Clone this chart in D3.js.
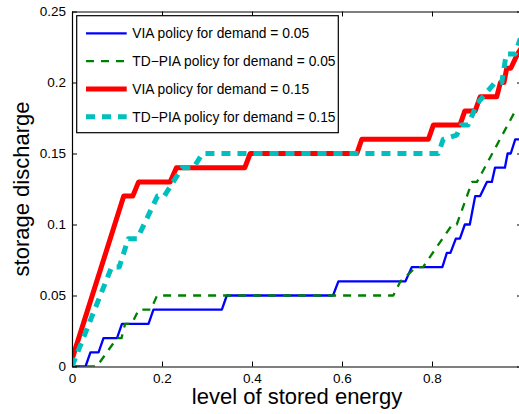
<!DOCTYPE html>
<html>
<head>
<meta charset="utf-8">
<script src="https://cdn.jsdelivr.net/npm/d3@7"></script>
<style>
  body { margin: 0; background: #fff; }
  svg { display: block; font-family: "Liberation Sans", Arial, Helvetica, sans-serif; }
</style>
</head>
<body>
<div id="grafico"></div>
<script>
// puntos: [nivel de energia, descarga]
const viaBaja = [[0,0],[0.03,0],[0.041,0.01],[0.059,0.01],[0.07,0.02],[0.1,0.02],[0.111,0.03],[0.17,0.03],[0.181,0.04],[0.333,0.04],[0.344,0.05],[0.58,0.05],[0.592,0.06],[0.741,0.06],[0.755,0.07],[0.823,0.07],[0.833,0.08],[0.841,0.08],[0.853,0.09],[0.862,0.09],[0.873,0.1],[0.884,0.1],[0.89,0.11],[0.896,0.12],[0.907,0.12],[0.922,0.13],[0.933,0.13],[0.94,0.14],[0.962,0.14],[0.968,0.15],[0.975,0.15],[0.985,0.16],[1,0.16]];
const tdpiaBaja = [[0,0],[0.055,0],[0.1,0.02],[0.11,0.02],[0.118,0.03],[0.133,0.03],[0.148,0.04],[0.175,0.04],[0.189,0.05],[0.714,0.05],[0.73,0.06],[0.765,0.07],[0.78,0.07],[0.845,0.1],[0.855,0.1],[0.889,0.13],[0.9,0.13],[0.985,0.18],[1,0.18]];
const viaAlta = [[0,0.005],[0.115,0.12],[0.135,0.12],[0.148,0.13],[0.218,0.13],[0.232,0.14],[0.384,0.14],[0.396,0.15],[0.633,0.15],[0.644,0.16],[0.792,0.16],[0.803,0.17],[0.862,0.17],[0.873,0.18],[0.896,0.18],[0.907,0.19],[0.944,0.19],[0.952,0.2],[0.96,0.2],[0.966,0.21],[0.975,0.21],[0.99,0.22],[1,0.225]];
const tdpiaAlta = [[0,0],[0.088,0.07],[0.105,0.07],[0.125,0.09],[0.145,0.09],[0.19,0.12],[0.205,0.12],[0.225,0.13],[0.245,0.14],[0.27,0.14],[0.29,0.15],[0.814,0.15],[0.825,0.16],[0.855,0.163],[0.865,0.17],[0.88,0.17],[0.9,0.185],[0.94,0.2],[0.955,0.2],[0.965,0.22],[0.985,0.22],[0.995,0.23],[1,0.23]];

const etiquetasLeyenda = ["VIA policy for demand = 0.05", "TD\u2212PIA policy for demand = 0.05", "VIA policy for demand = 0.15", "TD\u2212PIA policy for demand = 0.15"];
const ticksX = [0, 0.2, 0.4, 0.6, 0.8, 1];
const ticksY = [0, 0.05, 0.1, 0.15, 0.2, 0.25];
const tituloX = "level of stored energy";
const tituloY = "storage discharge";

const ancho = 519, alto = 414;
const izq = 72, der = 522, arriba = 11.5, abajo = 366.5;
const largoTick = 5;

const series = [
  { datos: viaBaja, color: "#0000ff", grosor: 2.3, guiones: null },
  { datos: tdpiaBaja, color: "#008000", grosor: 2.3, guiones: "8,7" },
  { datos: viaAlta, color: "#ff0000", grosor: 5, guiones: null },
  { datos: tdpiaAlta, color: "#00bfbf", grosor: 5, guiones: "9,7" }
];

const x = d3.scaleLinear().domain([0, 1]).range([izq, der]);
const y = d3.scaleLinear().domain([0, 0.25]).range([abajo, arriba]);

const $svg = d3.select("#grafico")
  .append("svg")
  .attr("width", ancho)
  .attr("height", alto);

$svg.append("defs").append("clipPath")
  .attr("id", "recorte")
  .append("rect")
  .attr("x", izq).attr("y", arriba)
  .attr("width", der - izq).attr("height", abajo - arriba);

const linea = d3.line().x(d => x(d[0])).y(d => y(d[1]));

const zonaLineas = $svg.append("g").attr("clip-path", "url(#recorte)");
series.forEach(s => {
  zonaLineas.append("path")
    .attr("d", linea(s.datos))
    .attr("fill", "none")
    .attr("stroke", s.color)
    .attr("stroke-width", s.grosor)
    .attr("stroke-linejoin", "round")
    .attr("stroke-dasharray", s.guiones);
});

// ejes con ticks hacia adentro; el "1" queda fuera de la ventana
const ejeAbajo = d3.axisBottom(x).tickValues(ticksX).tickSizeInner(-largoTick).tickSizeOuter(0).tickPadding(7)
  .tickFormat(d => d === 1 ? "" : d3.format("")(d));
const ejeArriba = d3.axisTop(x).tickValues(ticksX).tickSizeInner(-largoTick).tickSizeOuter(0).tickFormat("");
const ejeIzq = d3.axisLeft(y).tickValues(ticksY).tickSizeInner(-largoTick).tickSizeOuter(0).tickPadding(6)
  .tickFormat(d => d3.format("")(+d.toFixed(2)));
const ejeDer = d3.axisRight(y).tickValues(ticksY).tickSizeInner(-largoTick).tickSizeOuter(0).tickFormat("");

const ponerEje = (eje, dx, dy) => {
  const g = $svg.append("g")
    .attr("transform", `translate(${dx},${dy})`)
    .call(eje);
  g.select(".domain").attr("stroke", "#000").attr("stroke-width", 1.2);
  g.selectAll(".tick line").attr("stroke", "#000").attr("stroke-width", 1);
  g.selectAll("text")
    .attr("fill", "#000")
    .attr("font-size", 13.5)
    .attr("font-family", "'Liberation Sans', Arial, sans-serif");
  return g;
};
ponerEje(ejeAbajo, 0, abajo);
ponerEje(ejeArriba, 0, arriba);
ponerEje(ejeIzq, izq, 0);
ponerEje(ejeDer, der, 0);

$svg.append("text")
  .attr("x", x(0.5))
  .attr("y", 404)
  .attr("text-anchor", "middle")
  .attr("font-size", 22)
  .attr("fill", "#000")
  .text(tituloX);

$svg.append("text")
  .attr("transform", `translate(29,${(arriba + abajo) / 2}) rotate(-90)`)
  .attr("text-anchor", "middle")
  .attr("font-size", 22)
  .attr("fill", "#000")
  .text(tituloY);

// leyenda
const leyenda = $svg.append("g");
leyenda.append("rect")
  .attr("x", 76.7).attr("y", 15.7)
  .attr("width", 261.6).attr("height", 117)
  .attr("fill", "#fff")
  .attr("stroke", "#000")
  .attr("stroke-width", 1.2);

const filaY = d3.scalePoint().domain(d3.range(etiquetasLeyenda.length)).range([33.3, 116.7]);
series.forEach((s, i) => {
  leyenda.append("line")
    .attr("x1", 86).attr("x2", 126.7)
    .attr("y1", filaY(i)).attr("y2", filaY(i))
    .attr("stroke", s.color)
    .attr("stroke-width", s.grosor)
    .attr("stroke-dasharray", s.guiones);
  leyenda.append("text")
    .attr("x", 132.3)
    .attr("y", filaY(i))
    .attr("dy", "0.35em")
    .attr("font-size", 13.8)
    .attr("fill", "#000")
    .text(etiquetasLeyenda[i]);
});
</script>
</body>
</html>
